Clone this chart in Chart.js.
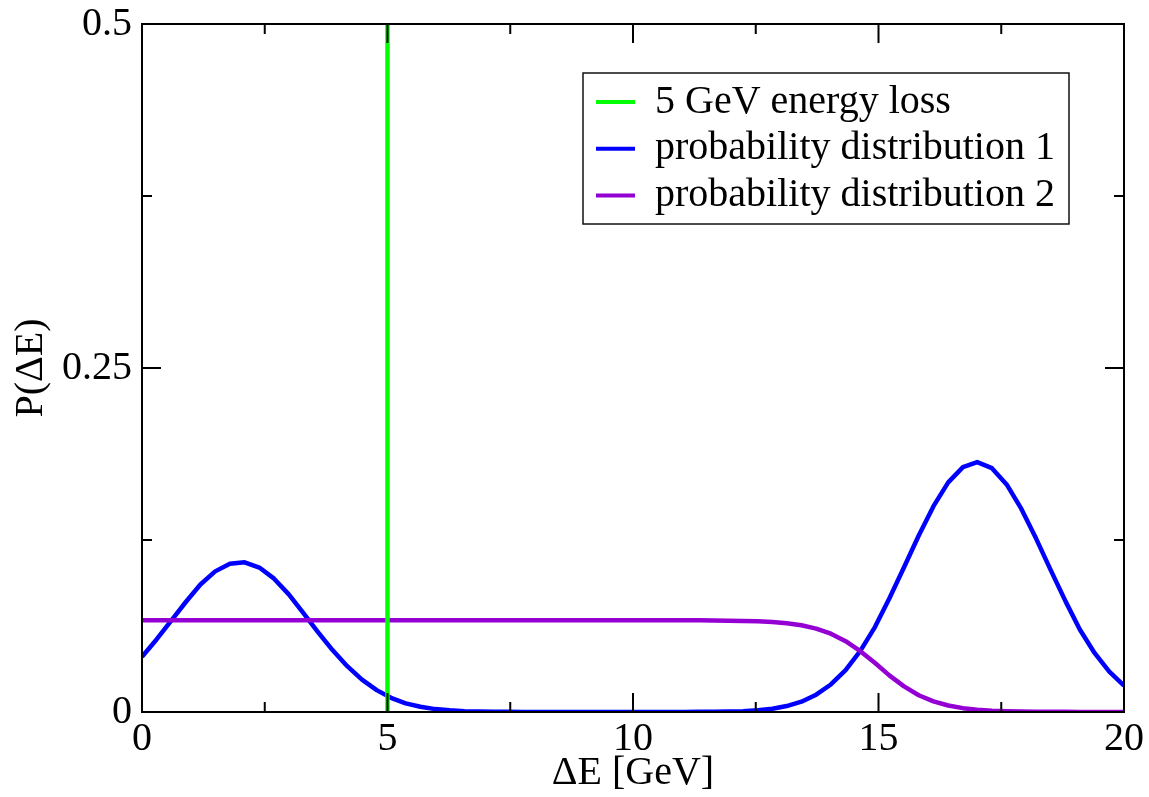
<!DOCTYPE html>
<html>
<head>
<meta charset="utf-8">
<title>P(ΔE)</title>
<script src="https://cdn.jsdelivr.net/npm/chart.js@4.4.1/dist/chart.umd.min.js"></script>
<style>
  html, body { margin: 0; padding: 0; background: #ffffff; }
  #wrap { width: 1149px; height: 797px; }
</style>
</head>
<body>
<div id="wrap"><canvas id="c" width="1149" height="797"></canvas></div>
<script>
// Energy-loss grid, ΔE in GeV
const energyLoss = [
  0, 0.30, 0.60, 0.90, 1.19, 1.49, 1.79, 2.09, 2.39, 2.69, 2.99, 3.28, 3.58, 3.88, 4.18, 4.48, 4.78,
  5.07, 5.37, 5.67, 5.97, 6.27, 6.57, 6.87, 7.16, 7.46, 7.76, 8.06, 8.36, 8.66, 8.96, 9.25, 9.55,
  9.85, 10.15, 10.45, 10.75, 11.04, 11.34, 11.64, 11.94, 12.24, 12.54, 12.84, 13.13, 13.43, 13.73,
  14.03, 14.33, 14.63, 14.93, 15.22, 15.52, 15.82, 16.12, 16.42, 16.72, 17.01, 17.31, 17.61, 17.91,
  18.21, 18.51, 18.81, 19.10, 19.40, 19.70, 20
];

// Probability distribution 1: two peaks, near 2 GeV and 17 GeV
const distribution1 = [
  0.0401, 0.0529, 0.0666, 0.0803, 0.0927, 0.1022, 0.1078, 0.1088, 0.1050, 0.0969, 0.0855, 0.0722,
  0.0583, 0.0450, 0.0333, 0.0235, 0.0159, 0.0103, 0.0063, 0.0038, 0.0021, 0.0012, 0.0006, 0.0003,
  0.0001, 0.0001, 0, 0, 0, 0, 0, 0, 0, 0, 0, 0, 0, 0,
  0.0001, 0.0001, 0.0003, 0.0006, 0.0013, 0.0024, 0.0043, 0.0075, 0.0126, 0.0200, 0.0305, 0.0444,
  0.0619, 0.0825, 0.1052, 0.1283, 0.1496, 0.1669, 0.1780, 0.1816, 0.1772, 0.1654, 0.1476, 0.1260,
  0.1029, 0.0804, 0.0600, 0.0429, 0.0293, 0.0191
];

// Probability distribution 2: flat plateau that falls off around 15 GeV
const distribution2 = [
  0.0667, 0.0667, 0.0667, 0.0667, 0.0667, 0.0667, 0.0667, 0.0667, 0.0667, 0.0667, 0.0667, 0.0667,
  0.0667, 0.0667, 0.0667, 0.0667, 0.0667, 0.0667, 0.0667, 0.0667, 0.0667, 0.0667, 0.0667, 0.0667,
  0.0667, 0.0667, 0.0667, 0.0667, 0.0667, 0.0667, 0.0667, 0.0667, 0.0667, 0.0667, 0.0667, 0.0667,
  0.0666, 0.0666, 0.0666, 0.0665, 0.0664, 0.0662, 0.0659, 0.0654, 0.0645, 0.0630, 0.0606, 0.0569,
  0.0515, 0.0442, 0.0356, 0.0266, 0.0186, 0.0122, 0.0077, 0.0047, 0.0028, 0.0017, 0.0010, 0.0006,
  0.0003, 0.0002, 0.0001, 0.0001, 0, 0, 0, 0
];

// Fixed 5 GeV energy loss, drawn as a vertical line
const fixedLossX = [5, 5];
const fixedLossY = [0, 0.5];

const seriesLabels = ['5 GeV energy loss', 'probability distribution 1', 'probability distribution 2'];
const seriesColors = ['#00ff00', '#0000ff', '#9400d3'];

// Axis ticks
const xMajorTicks = [0, 5, 10, 15, 20];
const xMinorTicks = [2.5, 7.5, 12.5, 17.5];
const yMajorTicks = [0, 0.25, 0.5];
const yMinorTicks = [0.125, 0.375];
const yTickLabels = { 0: '0', 0.25: '0.25', 0.5: '0.5' };

const serif = '"Liberation Serif", "Times New Roman", serif';

function toPoints(xs, ys) {
  return xs.map((x, i) => ({ x: x, y: ys[i] }));
}

// Inward major/minor ticks on all four sides plus the box frame
const framePlugin = {
  id: 'frameTicks',
  afterDatasetsDraw(chart) {
    const { ctx, chartArea: a, scales } = chart;
    const xs = scales.x, ys = scales.y;
    ctx.save();
    ctx.strokeStyle = '#000';
    ctx.lineWidth = 2;
    ctx.lineCap = 'butt';
    ctx.beginPath();
    const vTick = (v, len) => {
      const px = xs.getPixelForValue(v);
      ctx.moveTo(px, a.bottom); ctx.lineTo(px, a.bottom - len);
      ctx.moveTo(px, a.top); ctx.lineTo(px, a.top + len);
    };
    const hTick = (v, len) => {
      const py = ys.getPixelForValue(v);
      ctx.moveTo(a.left, py); ctx.lineTo(a.left + len, py);
      ctx.moveTo(a.right, py); ctx.lineTo(a.right - len, py);
    };
    xMajorTicks.forEach(v => vTick(v, 19));
    xMinorTicks.forEach(v => vTick(v, 10));
    yMajorTicks.forEach(v => hTick(v, 19));
    yMinorTicks.forEach(v => hTick(v, 10));
    ctx.stroke();
    ctx.strokeRect(a.left, a.top, a.right - a.left, a.bottom - a.top);
    ctx.restore();
  }
};

// Boxed legend in the upper right of the plot
const legendPlugin = {
  id: 'boxLegend',
  afterDraw(chart) {
    const { ctx, chartArea: a } = chart;
    const boxLeft = a.right - 541, boxTop = a.top + 49;
    const boxW = 486, boxH = 151;
    ctx.save();
    ctx.fillStyle = '#fff';
    ctx.fillRect(boxLeft, boxTop, boxW, boxH);
    ctx.strokeStyle = '#111';
    ctx.lineWidth = 1.5;
    ctx.strokeRect(boxLeft, boxTop, boxW, boxH);
    ctx.font = '40px ' + serif;
    ctx.textBaseline = 'alphabetic';
    ctx.textAlign = 'left';
    chart.data.datasets.forEach((ds, i) => {
      const cy = boxTop + 29 + i * 46.7;
      ctx.strokeStyle = ds.borderColor;
      ctx.lineWidth = 4;
      ctx.beginPath();
      ctx.moveTo(boxLeft + 13, cy);
      ctx.lineTo(boxLeft + 52, cy);
      ctx.stroke();
      ctx.fillStyle = '#000';
      ctx.fillText(ds.label, boxLeft + 72, cy + 10.5);
    });
    ctx.restore();
  }
};

new Chart(document.getElementById('c'), {
  type: 'line',
  data: {
    datasets: [
      {
        label: seriesLabels[0],
        data: toPoints(fixedLossX, fixedLossY),
        borderColor: seriesColors[0],
        borderWidth: 4.5,
        order: 0
      },
      {
        label: seriesLabels[1],
        data: toPoints(energyLoss, distribution1),
        borderColor: seriesColors[1],
        borderWidth: 4.5,
        order: 2
      },
      {
        label: seriesLabels[2],
        data: toPoints(energyLoss, distribution2),
        borderColor: seriesColors[2],
        borderWidth: 4.5,
        order: 1
      }
    ]
  },
  options: {
    responsive: false,
    devicePixelRatio: 1,
    animation: false,
    events: [],
    layout: { padding: { left: 0, right: 25, top: 24, bottom: 0 } },
    elements: {
      point: { radius: 0, hoverRadius: 0 },
      line: { tension: 0, fill: false, borderJoinStyle: 'round', borderCapStyle: 'butt' }
    },
    plugins: {
      legend: { display: false },
      tooltip: { enabled: false }
    },
    scales: {
      x: {
        type: 'linear',
        min: 0,
        max: 20,
        afterFit(scale) {
          scale.height = 85;
          scale.paddingLeft = 0;
          scale.paddingRight = 0;
        },
        afterBuildTicks(scale) { scale.ticks = xMajorTicks.map(v => ({ value: v })); },
        grid: { display: false, drawTicks: false },
        border: { display: false },
        ticks: {
          padding: 3,
          color: '#000',
          maxRotation: 0,
          autoSkip: false,
          font: { family: serif, size: 40 },
          callback: v => String(v)
        },
        title: {
          display: true,
          text: 'ΔE [GeV]',
          color: '#000',
          font: { family: serif, size: 40 },
          padding: { top: 0, bottom: 0 }
        }
      },
      y: {
        type: 'linear',
        min: 0,
        max: 0.5,
        afterFit(scale) {
          scale.width = 142;
          scale.paddingTop = 0;
          scale.paddingBottom = 0;
        },
        afterBuildTicks(scale) { scale.ticks = yMajorTicks.map(v => ({ value: v })); },
        grid: { display: false, drawTicks: false },
        border: { display: false },
        ticks: {
          padding: 10,
          color: '#000',
          autoSkip: false,
          font: { family: serif, size: 40 },
          callback: v => yTickLabels[v]
        },
        title: {
          display: true,
          text: 'P(ΔE)',
          color: '#000',
          font: { family: serif, size: 40 },
          padding: { top: 7, bottom: 0 }
        }
      }
    }
  },
  plugins: [framePlugin, legendPlugin]
});
</script>
</body>
</html>
